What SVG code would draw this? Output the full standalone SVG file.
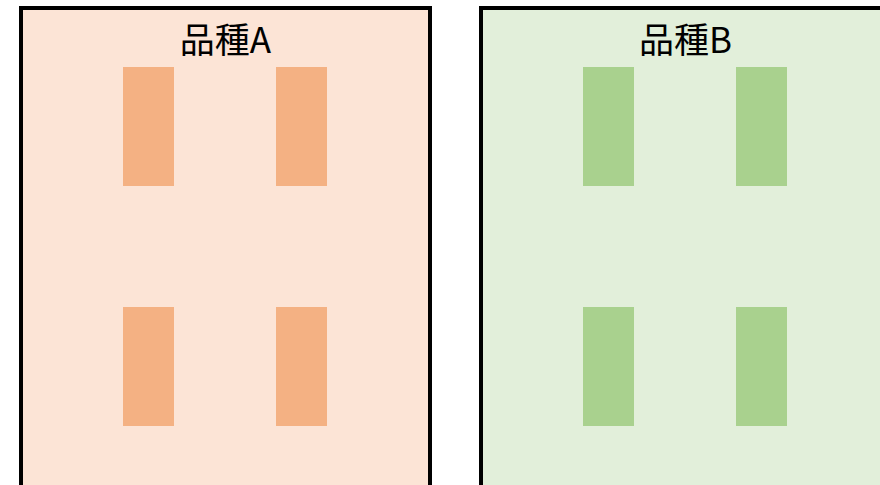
<svg xmlns="http://www.w3.org/2000/svg" width="880" height="485" viewBox="0 0 880 485">
<style>
.panel{stroke:#000;stroke-width:4}
.title{font-family:"Noto Sans CJK JP","Noto Sans",sans-serif;font-size:35px;text-anchor:middle;fill:#000}
.pa{fill:#F4B183}
.pb{fill:#A9D18E}
</style>
<g id="varietyA">
<rect class="panel" x="21" y="8" width="409" height="490" fill="#FCE4D6"/>
<text class="title" x="225.5" y="53">品種A</text>
<rect class="pa" x="123" y="67" width="51" height="119"/>
<rect class="pa" x="276" y="67" width="51" height="119"/>
<rect class="pa" x="123" y="307" width="51" height="119"/>
<rect class="pa" x="276" y="307" width="51" height="119"/>
</g>
<g id="varietyB">
<rect class="panel" x="481" y="8" width="409" height="490" fill="#E2EFDA"/>
<text class="title" x="685.5" y="53">品種B</text>
<rect class="pb" x="583" y="67" width="51" height="119"/>
<rect class="pb" x="736" y="67" width="51" height="119"/>
<rect class="pb" x="583" y="307" width="51" height="119"/>
<rect class="pb" x="736" y="307" width="51" height="119"/>
</g>
<g id="connectors"/>
</svg>
